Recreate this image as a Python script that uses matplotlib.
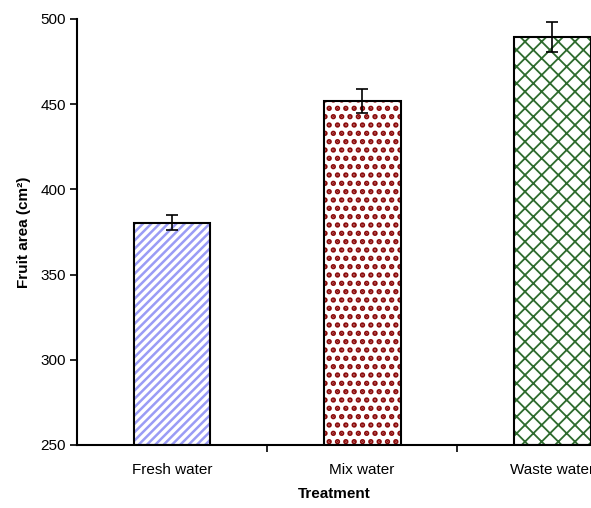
import numpy as np
import matplotlib.pyplot as plt

# Data
treatments = ['Fresh water', 'Mix water', 'Waste water']
fruit_area = [380.5, 452.0, 489.5]
errors = [4.5, 7.0, 9.0]
hatch_colors = ['#9a9cf5', '#8b0a0a', '#2e6b2e']
hatches = ['////', '..', 'xx']
hatch_lw = [1.8, 2.6, 1.3]

plt.rcParams['font.family'] = ['Liberation Sans', 'DejaVu Sans']

fig = plt.figure(figsize=(5.91, 5.08), dpi=100)
ax = fig.add_axes([77 / 591, 63 / 508, 1 - 77 / 591, 426 / 508])

x = np.arange(len(treatments))
width = 0.405

# hatch layer (hatch colour comes from edgecolor)
for xi, val, col, h, lw in zip(x, fruit_area, hatch_colors, hatches, hatch_lw):
    with plt.rc_context({'hatch.linewidth': lw}):
        ax.bar(xi, val - 250, width, bottom=250, color='white', edgecolor=col,
               hatch=h, linewidth=0)
# black outline + error bars
ax.bar(x, np.array(fruit_area) - 250, width, bottom=250, fill=False,
       edgecolor='black', linewidth=1.5)
ax.errorbar(x, fruit_area, yerr=errors, fmt='none', ecolor='black',
            elinewidth=1.2, capsize=4, capthick=1.2)

ax.set_ylim(250, 500)
ax.set_xlim(-0.5, 2.205)
ax.set_yticks(np.arange(250, 501, 50))
ax.set_xticks([0.5, 1.5])
ax.set_xticks(x, minor=True)
ax.set_xticklabels([])
ax.set_xticklabels(treatments, minor=True)
ax.tick_params(axis='x', which='minor', length=0, pad=13, labelsize=11)
ax.tick_params(axis='x', which='major', length=5, width=1.2)
ax.tick_params(axis='y', length=5, width=1.2, labelsize=11, pad=3)

for s in ['top', 'right']:
    ax.spines[s].set_visible(False)
for s in ['left', 'bottom']:
    ax.spines[s].set_linewidth(1.5)

ax.set_xlabel('Treatment', fontsize=11, fontweight='bold', labelpad=7)
ax.set_ylabel('Fruit area (cm²)', fontsize=11, fontweight='bold', labelpad=7)

fig.savefig('out.png', dpi=100)
